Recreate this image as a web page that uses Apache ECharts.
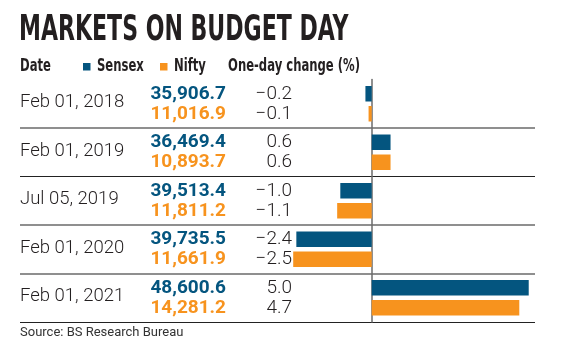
<!DOCTYPE html>
<html><head><meta charset="utf-8">
<script src="https://cdn.jsdelivr.net/npm/echarts@6/dist/echarts.min.js"></script>
<style>html,body{margin:0;padding:0;background:#fff}#c{width:576px;height:355px}</style>
</head><body><div id="c"></div>
<script>
const dates = ['Feb 01, 2018','Feb 01, 2019','Jul 05, 2019','Feb 01, 2020','Feb 01, 2021'];
const sensexClose = [35906.7, 36469.4, 39513.4, 39735.5, 48600.6];
const niftyClose = [11016.9, 10893.7, 11811.2, 11661.9, 14281.2];
const sensexChange = [-0.2, 0.6, -1.0, -2.4, 5.0];
const niftyChange = [-0.1, 0.6, -1.1, -2.5, 4.7];
const seriesNames = ['Sensex', 'Nifty'];

const BLUE = '#04557f', ORANGE = '#f7931e', INK = '#231f20';
const COND = '"DejaVu Sans Condensed","DejaVu Sans",sans-serif';
const BODY = 'Roboto,"Noto Sans",sans-serif';

function fmtClose(v){ return v.toLocaleString('en-US',{minimumFractionDigits:1,maximumFractionDigits:1}); }
function fmtChg(v){ const s = Math.abs(v).toFixed(1); return v < 0 ? '\u2212' + s : s; }

const chart = echarts.init(document.getElementById('c'), null, {renderer:'canvas'});
const rowsData = dates.map((d,i)=>[0,i]);
const HS = 0.76;

chart.setOption({
  animation:false,
  graphic:[
    {type:'text', x:19, y:31, scaleX:0.7, style:{text:'MARKETS ON BUDGET DAY', font:'bold 35px '+COND, fill:INK, verticalAlign:'middle'}},
    {type:'text', x:20, y:67, scaleX:HS, style:{text:'Date', font:'bold 17px '+COND, fill:INK, verticalAlign:'middle'}},
    {type:'rect', shape:{x:83, y:63, width:7.5, height:7.5}, style:{fill:BLUE}},
    {type:'text', x:97, y:67, scaleX:HS, style:{text:seriesNames[0], font:'bold 17px '+COND, fill:INK, verticalAlign:'middle'}},
    {type:'rect', shape:{x:160, y:63, width:7.5, height:7.5}, style:{fill:ORANGE}},
    {type:'text', x:174, y:67, scaleX:HS, style:{text:seriesNames[1], font:'bold 17px '+COND, fill:INK, verticalAlign:'middle'}},
    {type:'text', x:228, y:67, scaleX:HS, style:{text:'One-day change (%)', font:'bold 17px '+COND, fill:INK, verticalAlign:'middle'}},
    {type:'text', x:20, y:333, style:{text:'Source: BS Research Bureau', font:'13px '+BODY, fill:'#333', verticalAlign:'middle'}}
  ],
  grid:{left:20, right:41, top:79.5, bottom:33, containLabel:false},
  xAxis:{type:'value', min:-11.2, max:5.2, show:false},
  yAxis:[
    {type:'category', data:dates, inverse:true,
      axisLine:{show:true, onZero:true, lineStyle:{color:'#6b6b6b', width:1.5}},
      axisTick:{show:false}, axisLabel:{show:false},
      splitLine:{show:true, lineStyle:{width:2, color:['rgba(0,0,0,0)','#8f8f8f','rgba(0,0,0,0)','#8f8f8f','#8f8f8f','rgba(0,0,0,0)']}}},
    {type:'category', data:dates, inverse:true, position:'left',
      axisLine:{show:false}, axisTick:{show:false}, axisLabel:{show:false},
      splitLine:{show:true, lineStyle:{width:1.2, color:['rgba(0,0,0,0)','rgba(0,0,0,0)','#222','rgba(0,0,0,0)','rgba(0,0,0,0)','#222']}}}
  ],
  series:[
    {name:seriesNames[0], type:'bar', data:sensexChange, barWidth:15.5, barGap:'29%', itemStyle:{color:BLUE}},
    {name:seriesNames[1], type:'bar', data:niftyChange, barWidth:15.5, barGap:'29%', itemStyle:{color:ORANGE}},
    {type:'custom', data:rowsData, encode:{x:0,y:1}, z:5, silent:true,
      renderItem:function(params, api){
        const i = api.value(1);
        const y = api.coord([0, i])[1];
        return {type:'group', children:[
          {type:'text', style:{text:dates[i], x:20, y:y-1, verticalAlign:'middle', align:'left', font:'300 18.5px '+BODY, fill:INK}},
          {type:'text', style:{text:fmtClose(sensexClose[i]), x:226, y:y-10, verticalAlign:'middle', align:'right', font:'bold 19px '+BODY, fill:BLUE}},
          {type:'text', style:{text:fmtClose(niftyClose[i]), x:226, y:y+10, verticalAlign:'middle', align:'right', font:'bold 19px '+BODY, fill:ORANGE}},
          {type:'text', style:{text:fmtChg(sensexChange[i]), x:292, y:y-10, verticalAlign:'middle', align:'right', font:'300 19px '+BODY, fill:INK}},
          {type:'text', style:{text:fmtChg(niftyChange[i]), x:292, y:y+10, verticalAlign:'middle', align:'right', font:'300 19px '+BODY, fill:INK}}
        ]};
      }}
  ]
});
</script></body></html>
